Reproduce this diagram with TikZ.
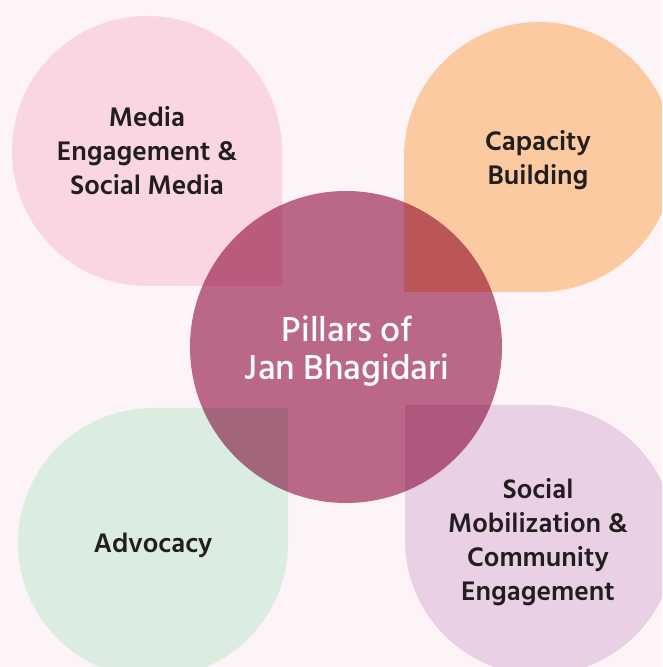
\documentclass[tikz,border=0pt]{standalone}
\usepackage{fontspec}
\newfontfamily\hindfont{Hind Siliguri}
\newfontfamily\hindmedium{Hind Siliguri Medium}
\usetikzlibrary{positioning}
\definecolor{jbback}{RGB}{252,244,247}
\definecolor{jbpink}{RGB}{250,214,228}
\definecolor{jborange}{RGB}{252,202,160}
\definecolor{jbgreen}{RGB}{218,237,224}
\definecolor{jbpurple}{RGB}{234,208,228}
\definecolor{jbhub}{RGB}{190,109,141}
\definecolor{jbink}{RGB}{34,30,32}
\tikzset{
  pillar/.style={align=center, text=jbink, inner sep=0pt,
    font=\hindfont\bfseries\fontsize{27.5}{34}\selectfont},
  hubtext/.style={align=center, text=white, inner sep=0pt,
    font=\hindmedium\fontsize{35.5}{38}\selectfont},
  hubfill/.style={fill=jbhub}
}
\begin{document}
\begin{tikzpicture}[x=1pt,y=1pt]
  \fill[jbback] (0,0) rectangle (662,667);
  \useasboundingbox (0,0) rectangle (662,667);
  \clip (0,0) rectangle (662,667);
  % petals, square corner towards the hub
  \fill[jbpink] (282,516) -- (282,381) -- (147,381) arc[start angle=270, end angle=0, radius=135] -- cycle;
  \fill[jborange] (404,510) -- (404,375) -- (539,375) arc[start angle=-90, end angle=180, radius=135] -- cycle;
  \fill[jbgreen] (153,259) -- (288,259) -- (288,124) arc[start angle=0, end angle=-270, radius=135] -- cycle;
  \fill[jbpurple] (405,127) -- (405,262) -- (540,262) arc[start angle=90, end angle=-180, radius=135] -- cycle;
  % hub
  \coordinate (hub) at (346,320);
  \begin{scope}[blend mode=multiply]
    \fill[hubfill] (hub) circle[radius=156];
  \end{scope}
  \node[hubtext] (hubname) at (347,316) {Pillars of\\Jan Bhagidari};
  \node[pillar] (media) at (147,516) {Media\\Engagement \&\\Social Media};
  \node[pillar] (capacity) at (538,507) {Capacity\\Building};
  \node[pillar] (advocacy) at (153,122) {Advocacy};
  \node[pillar] (mobilize) at (538,125) {Social\\Mobilization \&\\Community\\Engagement};
\end{tikzpicture}
\end{document}
